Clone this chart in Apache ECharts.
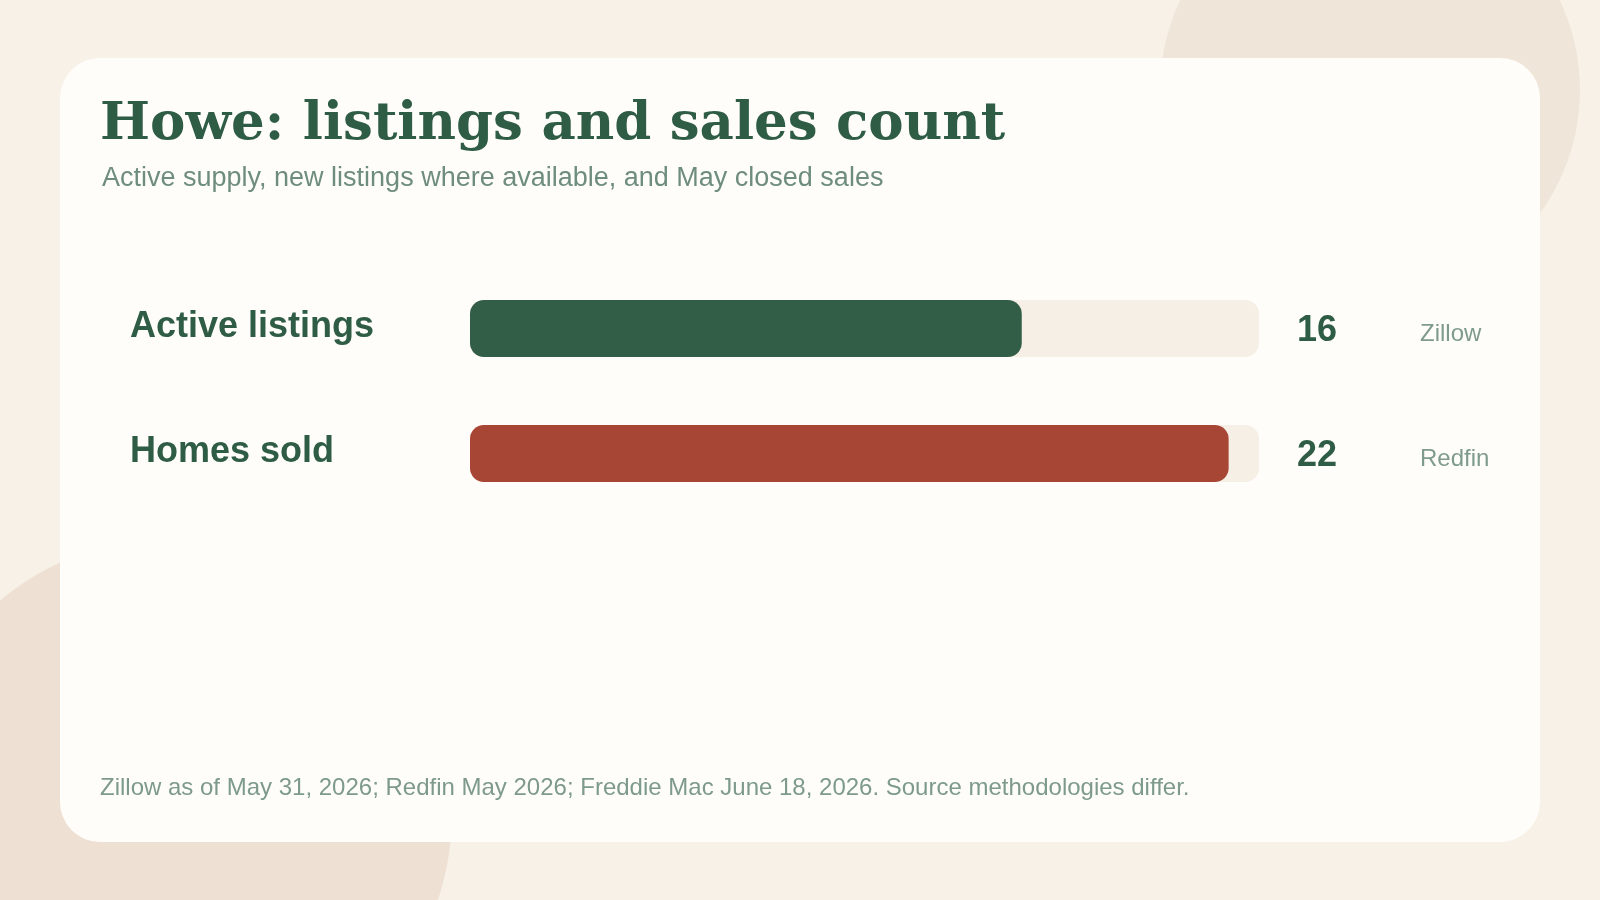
<!DOCTYPE html>
<html lang="en">
<head>
    <meta charset="UTF-8">
    <title>Howe: listings and sales count</title>
    <script src="https://cdn.jsdelivr.net/npm/echarts@6/dist/echarts.min.js"></script>
    <style>
        html, body { margin: 0; padding: 0; background: #f7f1e7; }
        #main { width: 1600px; height: 900px; }
    </style>
</head>
<body>
        <div id="main"></div>
        <script type="text/javascript">
            // data
            var categories = ['Active listings', 'Homes sold'];
            var values = [16, 22];
            var sources = ['Zillow', 'Redfin'];
            var barColors = ['#325e47', '#a84636'];

            var green = '#2f5c45';
            var muted = '#6f8d7d';
            var sans = '"Liberation Sans", Arial, sans-serif';

            var myChart = echarts.init(document.getElementById('main'));

            var option = {
                backgroundColor: '#f7f1e7',
                animation: false,
                graphic: [
                    { type: 'circle', z: -20, shape: { cx: 1370, cy: 90, r: 210 }, style: { fill: '#efe6d9' } },
                    { type: 'circle', z: -20, shape: { cx: 176, cy: 813, r: 276 }, style: { fill: '#efe0d4' } },
                    { type: 'rect', z: -10, shape: { x: 60, y: 58, width: 1480, height: 784, r: 40 }, style: { fill: '#fffdfa' } },
                    {
                        type: 'text', z: 10, style: {
                            x: 100, y: 125, text: 'Howe: listings and sales count',
                            font: 'bold 53px "DejaVu Serif", Georgia, serif',
                            fill: green, verticalAlign: 'middle'
                        }
                    },
                    {
                        type: 'text', z: 10, style: {
                            x: 102, y: 179, text: 'Active supply, new listings where available, and May closed sales',
                            font: '27px ' + sans, fill: muted, verticalAlign: 'middle'
                        }
                    },
                    {
                        type: 'text', z: 10, style: {
                            x: 100, y: 788, text: 'Zillow as of May 31, 2026; Redfin May 2026; Freddie Mac June 18, 2026. Source methodologies differ.',
                            font: '24px ' + sans, fill: '#7d9a8b', verticalAlign: 'middle'
                        }
                    }
                ],
                grid: { left: 470, right: 341, top: 266, height: 250 },
                xAxis: { type: 'value', min: 0, max: Math.max.apply(null, values) * 1.04, show: false },
                yAxis: [
                    {
                        type: 'category', inverse: true, data: categories,
                        axisLine: { show: false }, axisTick: { show: false },
                        axisLabel: {
                            align: 'left', margin: 340, verticalAlign: 'bottom', lineHeight: 2,
                            fontSize: 36, fontWeight: 'bold', fontFamily: sans, color: green
                        }
                    },
                    {
                        type: 'category', inverse: true, position: 'right', data: values.map(String),
                        axisLine: { show: false }, axisTick: { show: false },
                        axisLabel: {
                            align: 'left', margin: 38, verticalAlign: 'top', lineHeight: 6,
                            fontSize: 36, fontWeight: 'bold', fontFamily: sans, color: green
                        }
                    },
                    {
                        type: 'category', inverse: true, position: 'right', data: sources,
                        axisLine: { show: false }, axisTick: { show: false },
                        axisLabel: {
                            align: 'left', margin: 161, verticalAlign: 'top', lineHeight: 12,
                            fontSize: 24, fontFamily: sans, color: '#7f9b8c'
                        }
                    }
                ],
                series: [
                    {
                        type: 'bar',
                        barWidth: 57,
                        data: values.map(function (v, i) {
                            return { value: v, itemStyle: { color: barColors[i] } };
                        }),
                        itemStyle: { borderRadius: 14 },
                        showBackground: true,
                        backgroundStyle: { color: '#f5efe5', borderRadius: 14 }
                    }
                ]
            };
            myChart.setOption(option);
        </script>

</body>
</html>
